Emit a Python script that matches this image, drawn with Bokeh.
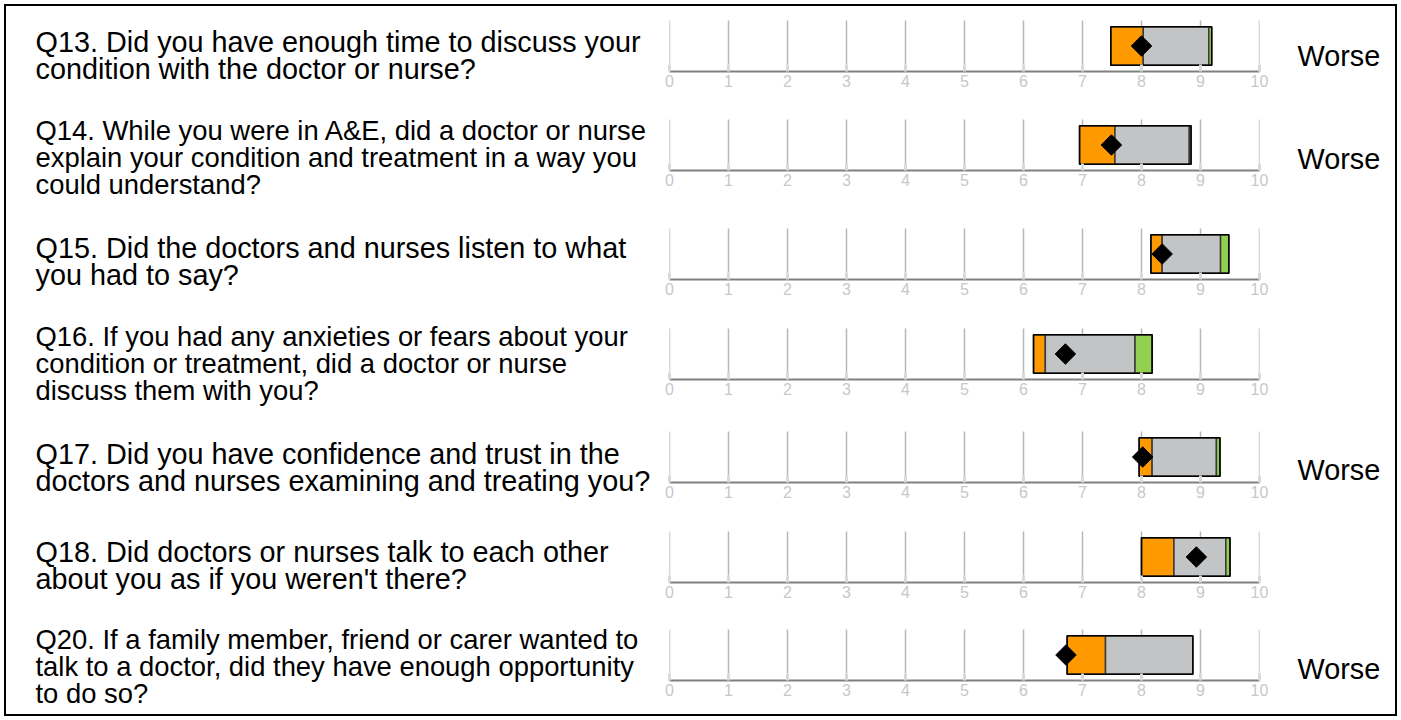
import numpy as np
from bokeh.plotting import figure
from bokeh.layouts import column, row
from bokeh.models import Range1d, FixedTicker
from bokeh.core.properties import value
from bokeh.embed import file_html
from bokeh.resources import INLINE

# ---------------- data ----------------
questions = [
    ["Q13. Did you have enough time to discuss your", "condition with the doctor or nurse?"],
    ["Q14. While you were in A&E, did a doctor or nurse", "explain your condition and treatment in a way you", "could understand?"],
    ["Q15. Did the doctors and nurses listen to what", "you had to say?"],
    ["Q16. If you had any anxieties or fears about your", "condition or treatment, did a doctor or nurse", "discuss them with you?"],
    ["Q17. Did you have confidence and trust in the", "doctors and nurses examining and treating you?"],
    ["Q18. Did doctors or nurses talk to each other", "about you as if you weren't there?"],
    ["Q20. If a family member, friend or carer wanted to", "talk to a doctor, did they have enough opportunity", "to do so?"],
]
orange_lo = [7.48, 6.95, 8.16, 6.17, 7.96, 8.00, 6.74]
orange_hi = [8.03, 7.55, 8.35, 6.37, 8.18, 8.55, 7.39]
grey_hi   = [9.14, 8.81, 9.34, 7.89, 9.27, 9.43, 8.87]
green_hi  = [9.19, 8.84, 9.48, 8.18, 9.33, 9.50, 8.87]
score     = [8.00, 7.49, 8.35, 6.71, 8.02, 8.93, 6.72]
verdict   = ["Worse", "Worse", "", "", "Worse", "", "Worse"]
ticks = [0, 1, 2, 3, 4, 5, 6, 7, 8, 9, 10]

# ---------------- layout (pixels) ----------------
TOP = 6                      # content top (inside border)
row_h   = [97, 107, 97, 107, 97, 97, 106]
row_top = list(np.cumsum([TOP] + row_h[:-1]))
total_h = sum(row_h)
axis_y  = [71, 170, 279, 379, 482, 582, 680]
text_mid = [55, 157, 261, 363, 467, 565, 666]
verdict_mid = [55, 158, 261, 364, 469, 565, 668]
FONT = "Liberation Sans"
TXT2, TXT3 = "28.8px", "27.4px"
line_pitch = 27
LEFT_W, RIGHT_W = 655, 116
PAD_L, PAD_R = 8, 20
BAR_W = PAD_L + 590 + PAD_R


def blank(p):
    p.axis.visible = False
    p.grid.visible = False
    p.outline_line_color = None
    p.background_fill_color = "white"
    p.border_fill_color = "white"
    p.min_border = 0


# ---- question texts (left column) ----
tx, ty, tt, ts = [], [], [], []
for i, lines in enumerate(questions):
    n = len(lines)
    for k, ln in enumerate(lines):
        tx.append(35 - 6)
        ty.append(text_mid[i] + (k - (n - 1) / 2) * line_pitch - TOP)
        tt.append(ln)
        ts.append(TXT3 if n == 3 else TXT2)
left = figure(width=LEFT_W, height=total_h, x_range=Range1d(0, LEFT_W),
              y_range=Range1d(total_h, 0), output_backend="svg", toolbar_location=None)
blank(left)
left.text(x=tx, y=ty, text=tt, text_font=value(FONT), text_font_size=ts,
          text_color="black", text_baseline="middle", text_align="left")

# ---- verdict texts (right column) ----
vx = [1297 - (6 + LEFT_W + BAR_W) for v in verdict if v]
vy = [verdict_mid[i] - TOP for i, v in enumerate(verdict) if v]
vt = [v for v in verdict if v]
right = figure(width=RIGHT_W, height=total_h, x_range=Range1d(0, RIGHT_W),
               y_range=Range1d(total_h, 0), output_backend="svg", toolbar_location=None)
blank(right)
right.text(x=vx, y=vy, text=vt, text_font=value(FONT), text_font_size=TXT2,
           text_color="black", text_baseline="middle", text_align="left")

# ---- bar rows ----
figs = []
for i in range(len(questions)):
    frame_h = axis_y[i] - row_top[i]
    below = row_h[i] - frame_h
    p = figure(width=BAR_W, height=row_h[i], x_range=Range1d(0, 10), y_range=Range1d(0, frame_h),
               output_backend="svg", toolbar_location=None,
               min_border_left=PAD_L, min_border_right=PAD_R, min_border_top=0,
               min_border_bottom=below)
    p.yaxis.visible = False
    p.grid.visible = False
    p.outline_line_color = None
    p.background_fill_color = "white"
    p.border_fill_color = "white"

    ax = p.xaxis[0]
    ax.ticker = FixedTicker(ticks=ticks)
    ax.minor_tick_line_color = None
    ax.major_tick_in = 7
    ax.major_tick_out = 0
    ax.major_tick_line_color = "#d9d9d9"
    ax.major_tick_line_width = 3
    ax.axis_line_color = "#808080"
    ax.axis_line_width = 2
    ax.major_label_text_color = "#c8c8c8"
    ax.major_label_text_font = FONT
    ax.major_label_text_font_size = "16px"
    ax.major_label_standoff = 3

    # vertical grid lines
    p.segment(x0=ticks, y0=[7] * len(ticks), x1=ticks, y1=[51] * len(ticks),
              line_color="#b8b8b8", line_width=1.5)

    bot, top = 6.3, 44.7
    p.quad(left=[orange_lo[i]], right=[orange_hi[i]], bottom=bot, top=top,
           fill_color="#ff9900", line_color="#3a3a3a", line_width=1.5)
    p.quad(left=[orange_hi[i]], right=[grey_hi[i]], bottom=bot, top=top,
           fill_color="#c3c4c6", line_color="#3a3a3a", line_width=1.5)
    if green_hi[i] > grey_hi[i]:
        p.quad(left=[grey_hi[i]], right=[green_hi[i]], bottom=bot, top=top,
               fill_color="#92d050", line_color="#3a3a3a", line_width=1.5)
    p.quad(left=[orange_lo[i]], right=[max(green_hi[i], grey_hi[i])], bottom=bot, top=top,
           fill_color=None, line_color="black", line_width=1.5)
    p.scatter(x=[score[i]], y=[(bot + top) / 2], marker="square", angle=np.pi / 4,
              size=14.5, fill_color="black", line_color="black")
    figs.append(p)

layout = row(left, column(*figs, spacing=0), right, spacing=0,
             margin=(4, 0, 0, 4), styles={"border": "2px solid black"})

open("out.html", "w").write(file_html(layout, INLINE))
